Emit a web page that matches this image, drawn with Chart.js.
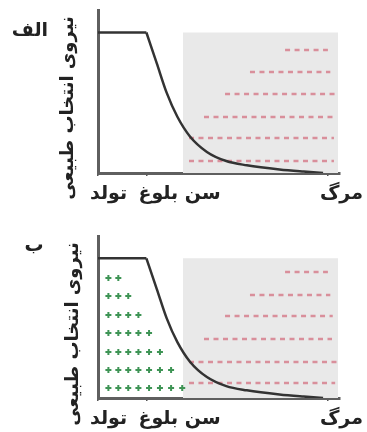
<!DOCTYPE html>
<html>
<head>
<meta charset="utf-8">
<script src="https://cdn.jsdelivr.net/npm/chart.js@4.4.1/dist/chart.umd.min.js"></script>
<style>
  body { margin: 0; background: #fff; }
  canvas { display: block; }
</style>
</head>
<body>
<canvas id="chart-a" width="367" height="216"></canvas>
<canvas id="chart-b" width="367" height="216"></canvas>
<script>
// x axis: age from birth (0) to death, y axis: strength of natural selection
const ageTicks = [0, 20, 95];
const ageLabels = ['تولد', 'سن بلوغ', 'مرگ'];
const yTitle = 'نیروی انتخاب طبیعی';

// selection curve (flat until maturity, then decays)
const plateauX = [0, 20];
const plateauY = [1, 1];
const declineX = [20, 24.3, 28.4, 32.8, 38, 45, 53, 61.5, 75, 85, 93];
const declineY = [1, 0.78, 0.57, 0.40, 0.26, 0.15, 0.085, 0.055, 0.025, 0.01, 0];

// shaded post-reproductive zone
const shadeX = [35.1, 99.2];
const shadeTop = 1.0;

// rows of harmful mutations (minus signs)
const minusRowYA = [0.875, 0.719, 0.562, 0.398, 0.249, 0.085];
const minusStartA = [77.3, 62.8, 52.5, 43.8, 37.6, 37.6];
const minusEndA = [95, 96, 98, 97, 97.5, 97.5];

const minusRowYB = [0.902, 0.738, 0.587, 0.422, 0.258, 0.107];
const minusStartB = [77.3, 62.8, 52.5, 43.8, 37.6, 37.6];
const minusEndB = [95, 96, 97, 96.7, 98.8, 98];

// rows of beneficial mutations (plus signs), panel b only
const plusRowY = [0.859, 0.730, 0.594, 0.465, 0.329, 0.200, 0.072];
const plusCount = [2, 3, 4, 5, 6, 7, 8];
const plusX = [4.3, 8.4, 12.5, 16.7, 21.1, 25.6, 30.2, 34.8];

const FONT = '"DejaVu Sans", sans-serif';

// draws the panel letter and the rotated y title
const panelText = {
    id: 'panelText',
    afterDraw(chart, args, opts) {
        const ctx = chart.ctx;
        ctx.save();
        ctx.fillStyle = '#222';
        ctx.direction = 'rtl';
        ctx.textAlign = 'center';
        ctx.textBaseline = 'middle';
        ctx.font = 'bold 19px ' + FONT;
        ctx.fillText(opts.letter, opts.letterX, opts.letterY);
        ctx.font = 'bold 18px ' + FONT;
        ctx.translate(opts.titleX, opts.titleY);
        ctx.rotate(-Math.PI / 2);
        ctx.fillText(yTitle, 0, 0);
        ctx.restore();
    }
};

function makeDatasets(rowY, rowStart, rowEnd, withPlus) {
    const sets = [];
    sets.push({
        data: shadeX.map(x => ({ x: x, y: shadeTop })),
        borderWidth: 0,
        pointRadius: 0,
        fill: 'origin',
        backgroundColor: '#e9e9e9',
        order: 10
    });
    rowY.forEach((y, i) => {
        sets.push({
            data: [{ x: rowStart[i], y: y }, { x: rowEnd[i], y: y }],
            borderColor: '#d98f9b',
            borderWidth: 2.5,
            borderDash: [5, 4.5],
            pointRadius: 0,
            fill: false,
            order: 5
        });
    });
    if (withPlus) {
        const pts = [];
        plusRowY.forEach((y, r) => {
            for (let i = 0; i < plusCount[r]; i++) pts.push({ x: plusX[i], y: y });
        });
        sets.push({
            data: pts,
            showLine: false,
            pointStyle: 'cross',
            pointRadius: 3,
            pointBorderWidth: 2,
            pointBorderColor: '#3e9455',
            order: 2
        });
    }
    sets.push({
        data: plateauX.map((x, i) => ({ x: x, y: plateauY[i] })),
        borderColor: '#333',
        borderWidth: 2.5,
        pointRadius: 0,
        fill: false,
        order: 1
    });
    sets.push({
        data: declineX.map((x, i) => ({ x: x, y: declineY[i] })),
        borderColor: '#333',
        borderWidth: 2.5,
        pointRadius: 0,
        cubicInterpolationMode: 'monotone',
        fill: false,
        order: 1
    });
    return sets;
}

function makeChart(id, sets, padTop, xHeight, text) {
    const ctx = document.getElementById(id).getContext('2d');
    return new Chart(ctx, {
        type: 'line',
        data: { datasets: sets },
        options: {
            responsive: false,
            animation: false,
            layout: { padding: { left: 98, right: 27, top: padTop, bottom: 0 } },
            scales: {
                x: {
                    type: 'linear',
                    min: 0,
                    max: 100,
                    afterBuildTicks: s => { s.ticks = ageTicks.map(v => ({ value: v })); },
                    afterFit: s => {
                        s.height = xHeight;
                        s.paddingLeft = 0;
                        s.paddingRight = 0;
                    },
                    ticks: {
                        autoSkip: false,
                        maxRotation: 0,
                        align: 'start',
                        labelOffset: -8,
                        padding: 7,
                        color: '#222',
                        font: { family: FONT, size: 19, weight: 'bold' },
                        callback: (value, index) => ageLabels[index]
                    },
                    grid: { display: true, drawOnChartArea: false, drawTicks: true, tickLength: 3, color: '#555', lineWidth: 1.5 },
                    border: { display: true, color: '#5f5f5f', width: 3 }
                },
                y: {
                    min: 0,
                    max: 1.16,
                    afterFit: s => { s.width = 0; },
                    ticks: { display: false },
                    grid: { display: false },
                    border: { display: true, color: '#5f5f5f', width: 3 }
                }
            },
            plugins: {
                legend: { display: false },
                tooltip: { enabled: false },
                panelText: text
            }
        },
        plugins: [panelText]
    });
}

makeChart('chart-a', makeDatasets(minusRowYA, minusStartA, minusEndA, false), 10, 43,
    { letter: 'الف', letterX: 30, letterY: 31, titleX: 68, titleY: 108 });
makeChart('chart-b', makeDatasets(minusRowYB, minusStartB, minusEndB, true), 20, 34,
    { letter: 'ب', letterX: 34, letterY: 30, titleX: 73, titleY: 118 });
</script>
</body>
</html>
